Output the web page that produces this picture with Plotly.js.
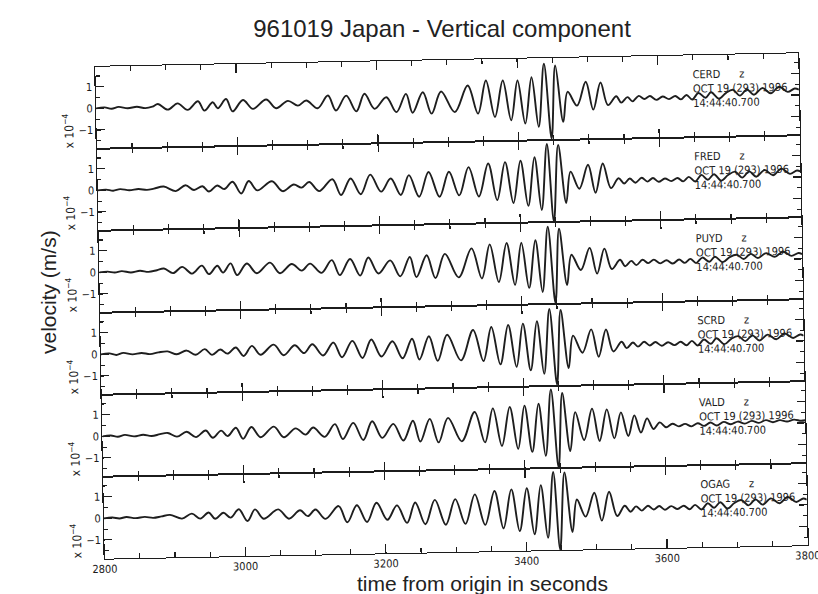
<!DOCTYPE html>
<html><head><meta charset="utf-8">
<script src="https://cdn.plot.ly/plotly-3.0.1.min.js"></script>
<style>
html,body{margin:0;padding:0;background:#fff;}
#wrap{position:relative;width:818px;height:594px;overflow:hidden;background:#fff;}
#panels{position:absolute;left:0;top:0;width:818px;height:594px;transform:rotate(-1.1deg);transform-origin:451px 306px;}
#labels{position:absolute;left:0;top:0;width:818px;height:594px;pointer-events:none;}
</style></head><body>
<div id="wrap"><div id="panels"></div><div id="labels"></div></div>
<script>
const stations = ['CERD','FRED','PUYD','SCRD','VALD','OGAG'];
const xTickVals = [2800,3000,3200,3400,3600,3800];
const xTickText = ['2800','3000','3200','3400','3600','3800'];
const yTickVals = [-1,0,1];
const yTickText = ['\u22121','0','1'];

const cerdT = [2800,2812,2822,2832,2845,2858,2870,2880,2888,2902,2916,2930,2945,2954,2966,2973,2985,2994,3009,3023,3042,3056,3073,3087,3099,3115,3130,3141,3156,3170,3182,3196,3213,3227,3241,3250,3265,3277,3291,3310,3329,3343,3355,3367,3379,3390,3400,3410,3420,3429,3438,3447,3454,3464,3471,3484,3497,3507,3518,3528,3540,3547,3556,3563,3572,3580,3588,3597,3606,3615,3624,3632,3640,3648,3657,3667,3675,3686,3696,3706,3716,3726,3736,3748,3760,3772,3784,3794,3800];
const cerdV = [0,0.04,-0.03,0.05,-0.02,0.04,-0.03,0.03,0.15,-0.12,0.16,-0.15,0.24,-0.2,0.18,-0.1,0.32,-0.26,0.26,-0.16,0.26,-0.15,0.18,-0.05,0.18,-0.19,0.39,-0.31,0.37,-0.37,0.44,-0.27,0.26,-0.44,0.4,-0.48,0.46,-0.54,0.48,-0.49,0.73,-0.58,0.95,-0.75,0.93,-0.92,0.92,-1.08,1.06,-1.25,1.67,-1.8,1.58,-1.04,0.35,-0.3,0.8,-0.5,0.75,-0.3,0.1,-0.2,0.05,-0.15,0.1,-0.05,0.08,-0.1,0.05,-0.08,0.06,-0.1,0.1,-0.12,0.18,-0.05,0.2,-0.1,0.15,0.3,0.02,0.3,0.05,0.35,0.1,0.4,0.15,0.3,0.25];

const fredT = [2800,2812,2822,2832,2845,2858,2870,2880,2894,2911,2925,2937,2949,2958,2970,2980,2992,3004,3015,3027,3048,3063,3079,3090,3101,3115,3134,3146,3160,3174,3188,3203,3217,3231,3243,3257,3271,3286,3300,3314,3328,3342,3356,3368,3380,3391,3402,3412,3422,3431,3440,3448,3456,3466,3473,3485,3498,3508,3519,3530,3541,3549,3557,3565,3574,3582,3590,3598,3607,3616,3625,3633,3641,3650,3659,3668,3677,3687,3697,3707,3717,3727,3737,3749,3761,3773,3785,3795,3800];
const fredV = [0,0.03,-0.03,0.04,-0.02,0.03,-0.02,0.03,0.12,-0.1,0.16,-0.07,0.1,-0.15,0.12,-0.05,0.28,-0.27,0.3,-0.14,0.27,-0.2,0.1,-0.05,0.2,-0.23,0.31,-0.43,0.33,-0.41,0.49,-0.31,0.29,-0.48,0.43,-0.58,0.56,-0.6,0.55,-0.55,0.75,-0.62,0.9,-0.8,0.95,-0.95,1.0,-1.1,1.15,-1.3,1.75,-1.85,1.7,-1.0,0.45,-0.35,0.75,-0.55,0.8,-0.35,0.1,-0.15,0.08,-0.12,0.1,-0.08,0.08,-0.1,0.05,-0.08,0.06,-0.1,0.1,-0.12,0.18,-0.05,0.2,-0.1,0.15,0.3,0.02,0.3,0.05,0.35,0.1,0.4,0.15,0.3,0.25];

const puydT = [2800,2812,2822,2832,2845,2858,2870,2882,2892,2905,2918,2932,2946,2956,2968,2976,2987,2996,3010,3024,3043,3057,3074,3088,3100,3116,3131,3142,3157,3171,3183,3197,3214,3228,3242,3251,3266,3278,3292,3311,3330,3344,3356,3368,3380,3391,3401,3411,3421,3430,3439,3448,3455,3465,3472,3485,3498,3508,3519,3529,3541,3548,3557,3564,3573,3581,3589,3598,3607,3616,3625,3633,3641,3649,3658,3668,3676,3687,3697,3707,3717,3727,3737,3749,3761,3773,3785,3795,3800];
const puydV = [0,0.03,-0.02,0.04,-0.03,0.04,-0.02,0.05,0.12,-0.1,0.18,-0.14,0.22,-0.18,0.2,-0.12,0.3,-0.25,0.28,-0.18,0.3,-0.2,0.22,-0.1,0.22,-0.22,0.36,-0.34,0.4,-0.38,0.45,-0.3,0.3,-0.45,0.44,-0.5,0.5,-0.56,0.55,-0.55,0.78,-0.62,0.95,-0.8,1.0,-0.95,1.0,-1.1,1.1,-1.3,1.72,-1.82,1.62,-1.0,0.4,-0.32,0.7,-0.5,0.65,-0.3,0.12,-0.18,0.06,-0.14,0.1,-0.06,0.1,-0.08,0.06,-0.1,0.08,-0.08,0.1,-0.1,0.15,-0.05,0.18,-0.08,0.15,0.25,0.05,0.28,0.08,0.3,0.12,0.35,0.15,0.28,0.22];

const scrdT = [2800,2812,2822,2832,2845,2858,2870,2882,2895,2908,2922,2935,2948,2958,2970,2980,2992,3003,3015,3027,3046,3060,3076,3089,3101,3116,3131,3143,3158,3172,3185,3199,3215,3229,3243,3253,3267,3279,3293,3312,3330,3344,3356,3368,3380,3391,3401,3411,3421,3430,3439,3448,3455,3465,3472,3485,3498,3508,3519,3529,3541,3548,3557,3564,3573,3581,3589,3598,3607,3616,3625,3633,3641,3649,3658,3668,3676,3687,3697,3707,3717,3727,3737,3749,3761,3773,3785,3795,3800];
const scrdV = [0,0.04,-0.04,0.05,-0.03,0.03,-0.03,0.04,0.08,-0.06,0.1,-0.1,0.15,-0.12,0.12,-0.08,0.2,-0.2,0.26,-0.16,0.3,-0.2,0.25,-0.12,0.28,-0.25,0.34,-0.35,0.4,-0.4,0.45,-0.35,0.35,-0.45,0.45,-0.52,0.55,-0.6,0.6,-0.6,0.8,-0.65,0.92,-0.82,1.0,-0.95,1.05,-1.12,1.15,-1.3,1.7,-1.8,1.65,-1.05,0.45,-0.35,0.72,-0.55,0.7,-0.32,0.12,-0.18,0.08,-0.12,0.1,-0.08,0.08,-0.1,0.06,-0.08,0.07,-0.1,0.1,-0.12,0.15,-0.05,0.2,-0.08,0.16,0.28,0.04,0.3,0.06,0.32,0.1,0.36,0.14,0.3,0.24];

const valdT = [2800,2812,2822,2832,2845,2858,2870,2882,2893,2906,2920,2933,2947,2957,2969,2978,2990,3000,3012,3025,3044,3058,3075,3089,3100,3116,3131,3142,3157,3171,3184,3198,3214,3228,3242,3252,3266,3278,3292,3311,3330,3344,3356,3368,3380,3391,3401,3411,3421,3430,3439,3448,3455,3465,3473,3485,3497,3507,3518,3528,3538,3548,3557,3566,3575,3584,3593,3602,3611,3620,3629,3638,3647,3656,3665,3674,3684,3694,3704,3714,3724,3734,3744,3754,3764,3774,3784,3794,3800];
const valdV = [0,0.03,-0.03,0.05,-0.03,0.04,-0.03,0.05,0.1,-0.08,0.14,-0.12,0.18,-0.16,0.16,-0.1,0.28,-0.24,0.3,-0.18,0.3,-0.2,0.2,-0.1,0.22,-0.22,0.36,-0.34,0.4,-0.4,0.46,-0.32,0.32,-0.46,0.45,-0.52,0.52,-0.58,0.55,-0.55,0.8,-0.62,0.95,-0.8,1.0,-0.95,1.05,-1.1,1.12,-1.3,1.78,-1.85,1.6,-1.1,0.7,-0.6,0.85,-0.65,0.8,-0.55,0.65,-0.45,0.5,-0.3,0.35,-0.15,0.15,-0.08,0.08,-0.05,0.06,-0.06,0.08,-0.05,0.1,-0.04,0.12,0.0,0.12,0.02,0.14,0.04,0.16,0.06,0.15,0.08,0.16,0.1,0.12];

const ogagT = [2800,2812,2822,2832,2845,2858,2870,2882,2894,2911,2925,2937,2949,2958,2970,2980,2992,3004,3015,3027,3048,3063,3079,3090,3101,3115,3134,3146,3160,3174,3188,3203,3217,3231,3243,3257,3271,3286,3300,3314,3328,3342,3356,3368,3380,3391,3402,3412,3422,3431,3440,3448,3456,3466,3473,3485,3498,3508,3519,3530,3541,3549,3557,3565,3574,3582,3590,3598,3607,3616,3625,3633,3641,3650,3659,3668,3677,3687,3697,3707,3717,3727,3737,3749,3761,3773,3785,3795,3800];
const ogagV = [0,0.03,-0.02,0.04,-0.02,0.03,-0.02,0.04,0.1,-0.08,0.14,-0.1,0.18,-0.12,0.15,-0.08,0.3,-0.25,0.28,-0.16,0.26,-0.18,0.2,-0.08,0.22,-0.22,0.36,-0.4,0.38,-0.4,0.48,-0.32,0.34,-0.48,0.46,-0.56,0.56,-0.6,0.58,-0.58,0.78,-0.64,0.92,-0.82,0.98,-0.96,1.02,-1.12,1.15,-1.3,1.75,-1.85,1.72,-1.05,0.45,-0.35,0.75,-0.55,0.78,-0.35,0.12,-0.16,0.08,-0.12,0.1,-0.08,0.08,-0.1,0.06,-0.08,0.07,-0.1,0.1,-0.12,0.16,-0.05,0.2,-0.1,0.15,0.28,0.03,0.3,0.05,0.33,0.1,0.38,0.14,0.3,0.24];

const seriesT = [cerdT,fredT,puydT,scrdT,valdT,ogagT];
const seriesV = [cerdV,fredV,puydV,scrdV,valdV,ogagV];

const narrow = '"Liberation Sans Narrow", "DejaVu Sans Condensed", "Arial Narrow", sans-serif';
const sans = 'Arial, "Liberation Sans", Helvetica, sans-serif';
const ink = '#1c1c1c';
const N = 6;
const traces = [];
const layout = {
  width:818, height:594,
  margin:{l:100, r:15, t:60, b:42},
  paper_bgcolor:'rgba(0,0,0,0)', plot_bgcolor:'rgba(0,0,0,0)',
  showlegend:false, annotations:[]
};
for (let i=0;i<N;i++){
  const k = i===0 ? '' : String(i+1);
  traces.push({x:seriesT[i], y:seriesV[i], xaxis:'x'+k, yaxis:'y'+k, mode:'lines',
    line:{color:'#1e1e1e', width:1.9, shape:'spline', smoothing:1}, hoverinfo:'skip'});
  layout['xaxis'+k] = {domain:[0,1], anchor:'y'+k, range:[2800,3800],
    tickmode:'array', tickvals:xTickVals, ticktext:xTickText,
    ticks:'inside', ticklen:9, tickwidth:1.2, tickcolor:ink,
    minor:{dtick:50, tick0:2800, ticks:'inside', ticklen:5, tickwidth:1.1, tickcolor:ink},
    mirror:'ticks', showline:true, linecolor:ink, linewidth:1,
    showgrid:false, zeroline:false, showticklabels:(i===N-1),
    tickfont:{family:narrow, size:11, color:ink}};
  layout['yaxis'+k] = {domain:[1-(i+1)/N, 1-i/N], anchor:'x'+k, range:[-1.87,1.93],
    tickmode:'array', tickvals:yTickVals, ticktext:yTickText,
    ticks:'inside', ticklen:8, tickwidth:1.2, tickcolor:ink,
    minor:{dtick:0.5, tick0:0, ticks:'inside', ticklen:4, tickwidth:1.1, tickcolor:ink},
    mirror:'ticks', showline:true, linecolor:ink, linewidth:1.2,
    showgrid:false, zeroline:false,
    tickfont:{family:narrow, size:11, color:ink}};
  layout.annotations.push({xref:'x'+k, yref:'y'+k, x:3646, y:0.37, xanchor:'left', yanchor:'middle', align:'left',
    showarrow:false, text: stations[i]+'\u00a0\u00a0\u00a0\u00a0\u00a0\u00a0z<br>OCT 19 (293)\u00a01996<br>14:44:40.700',
    font:{family:narrow, size:11, color:ink}});
  layout.annotations.push({xref:'paper', yref:'y'+k, x:-0.04, y:-1.0, xanchor:'center', yanchor:'middle',
    textangle:-90, showarrow:false, text:'x 10<sup>\u22124</sup>', font:{family:narrow, size:12, color:ink}});
}
Plotly.newPlot('panels', traces, layout, {staticPlot:true, displayModeBar:false});

const labelLayout = {
  width:818, height:594, margin:{l:0,r:0,t:0,b:0},
  paper_bgcolor:'rgba(0,0,0,0)', plot_bgcolor:'rgba(0,0,0,0)',
  xaxis:{visible:false, range:[0,1]}, yaxis:{visible:false, range:[0,1]},
  title:{text:'961019 Japan - Vertical component', x:442/818, xanchor:'center', y:1-28.5/594, yanchor:'middle',
    font:{family:sans, size:24, color:'#222'}},
  annotations:[
    {xref:'paper', yref:'paper', x:482/818, y:1-583.5/594, xanchor:'center', yanchor:'middle', showarrow:false,
     text:'time from origin in seconds', font:{family:sans, size:21, color:'#222'}},
    {xref:'paper', yref:'paper', x:48/818, y:1-292/594, xanchor:'center', yanchor:'middle', showarrow:false, textangle:-90,
     text:'velocity (m/s)', font:{family:sans, size:21, color:'#222'}}
  ]
};
Plotly.newPlot('labels', [], labelLayout, {staticPlot:true, displayModeBar:false});
</script>
</body></html>
